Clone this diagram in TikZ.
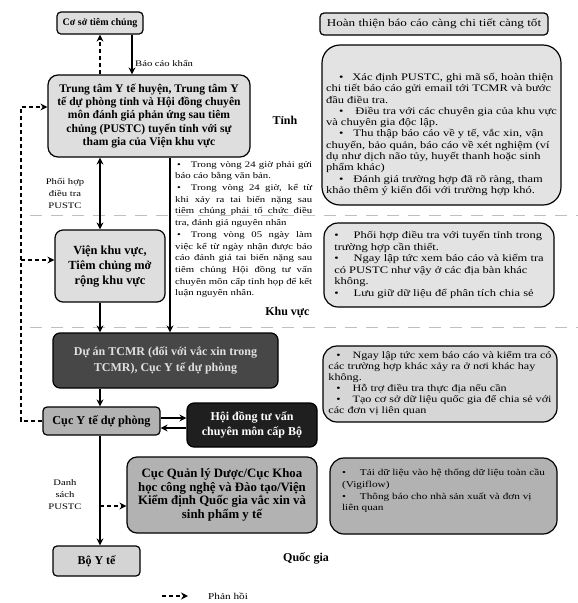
\documentclass[tikz,border=0pt]{standalone}
\usepackage{fontspec}
\setmainfont{Liberation Serif}
\newfontfamily\notefont{Liberation Serif}[FakeStretch=1.25]
\usetikzlibrary{arrows.meta}

\tikzset{
    box/.style={draw=black, line width=1.2pt, rounded corners=4pt, align=center, inner sep=2pt},
    lightbox/.style={box, fill=black!13},
    midbox/.style={box, fill=black!30},
    darkbox/.style={box, fill=black!72, text=black!12},
    blackbox/.style={box, fill=black!88, text=white},
    notebox/.style={draw=black, line width=1.2pt, rounded corners=14pt, fill=black!11, align=left, inner sep=0pt},
    flow/.style={line width=1.6pt, -{Stealth[length=7pt, width=7pt]}},
    twoway/.style={line width=1.6pt, {Stealth[length=7pt, width=7pt]}-{Stealth[length=7pt, width=7pt]}},
    feedback/.style={line width=1.6pt, dash pattern=on 4pt off 3pt, -{Stealth[length=7pt, width=7pt]}},
    tier/.style={font=\bfseries\fontsize{12}{14}\selectfont},
    edgelabel/.style={align=center, inner sep=0pt, font=\notefont\fontsize{8.5}{12}\selectfont},
    separator/.style={draw=black!25, line width=0.6pt, dash pattern=on 12pt off 9pt}
}

\begin{document}
\begin{tikzpicture}[x=1pt, y=-1pt]

    \path[use as bounding box, fill=white] (0,0) rectangle (578,603);

    \draw[separator] (30,215) -- (578,215);
    \draw[separator] (30,327) -- (578,327);

    \coordinate (colA) at (100,0);
    \coordinate (colB) at (132,0);
    \coordinate (colC) at (170,0);
    \coordinate (fbtop) at (21,107);
    \coordinate (fbmid) at (21,260);
    \coordinate (rowout) at (0,418);
    \coordinate (rowback) at (0,428);
    \coordinate (branchQ) at (100,506);

    % left column
    \node[lightbox, minimum width=86pt, minimum height=22pt, font=\bfseries\fontsize{10}{12}\selectfont] (coso) at (100,23) {Cơ sở tiêm chủng};

    \node[lightbox, rounded corners=10pt, minimum width=202pt, minimum height=82pt, font=\bfseries\fontsize{11.6}{13.2}\selectfont] (trungtam) at (149,116) {Trung tâm Y tế huyện, Trung tâm Y\\tế dự phòng tỉnh và Hội đồng chuyên\\môn đánh giá phản ứng sau tiêm\\chủng (PUSTC) tuyến tỉnh với sự\\tham gia của Viện khu vực};

    \node[lightbox, rounded corners=8pt, minimum width=110pt, minimum height=72pt, font=\bfseries\fontsize{12.4}{15}\selectfont] (vien) at (110,266) {Viện khu vực,\\Tiêm chủng mở\\rộng khu vực};

    \node[darkbox, rounded corners=7pt, minimum width=225pt, minimum height=55pt, font=\bfseries\fontsize{12}{15.5}\selectfont] (duan) at (165.5,360.5) {Dự án TCMR (đối với vắc xin trong\\TCMR), Cục Y tế dự phòng};

    \node[midbox, minimum width=117pt, minimum height=28pt, font=\bfseries\fontsize{12.2}{14}\selectfont] (cucyt) at (101.5,421) {Cục Y tế dự phòng};

    \node[blackbox, rounded corners=7pt, minimum width=130pt, minimum height=44pt, font=\bfseries\fontsize{12}{15}\selectfont] (hoidong) at (252,425) {Hội đồng tư vấn\\chuyên môn cấp Bộ};

    \node[midbox, rounded corners=10pt, minimum width=190pt, minimum height=76pt, font=\bfseries\fontsize{12.8}{13.8}\selectfont] (cucql) at (222,495) {Cục Quản lý Dược/Cục Khoa\\học công nghệ và Đào tạo/Viện\\Kiểm định Quốc gia vắc xin và\\sinh phẩm y tế};

    \node[lightbox, fill=black!17, minimum width=87pt, minimum height=30pt, font=\bfseries\fontsize{12}{14}\selectfont] (boyte) at (96.5,561) {Bộ Y tế};

    \node[anchor=north west, text width=137pt, align=justify, inner sep=0pt, font=\notefont\fontsize{8.6}{11.7}\selectfont] (deadlines) at (175,161) {\hspace*{2pt}\textbullet\hspace{10pt}Trong vòng 24 giờ phải gửi\linebreak báo cáo bằng văn bản.\par
    \hspace*{2pt}\textbullet\hspace{10pt}Trong vòng 24 giờ, kể từ\linebreak khi xảy ra tai biến nặng sau\linebreak tiêm chủng phải tổ chức điều\linebreak tra, đánh giá nguyên nhân\par
    \hspace*{2pt}\textbullet\hspace{10pt}Trong vòng 05 ngày làm\linebreak việc kể từ ngày nhận được báo\linebreak cáo đánh giá tai biến nặng sau\linebreak tiêm chủng Hội đồng tư vấn\linebreak chuyên môn cấp tỉnh họp để kết\linebreak luận nguyên nhân.};

    % tiers
    \node[tier] (tinh) at (285,120) {Tỉnh};
    \node[tier, anchor=east] (khuvuc) at (313,313) {Khu vực};
    \node[tier] (quocgia) at (306,558) {Quốc gia};

    % right column
    \node[lightbox, minimum width=228pt, minimum height=22pt, font=\notefont\fontsize{10.5}{13}\selectfont] (hoanthien) at (434,24) {Hoàn thiện báo cáo càng chi tiết càng tốt};

    \node[notebox, rounded corners=18pt, minimum width=239pt, minimum height=160pt, font=\notefont\fontsize{10}{11.3}\selectfont] (tinhnote) at (441.5,125) {\rule{0pt}{26pt}\hspace*{13pt}\textbullet\hspace{9pt}Xác định PUSTC, ghi mã số, hoàn thiện\\chi tiết báo cáo gửi email tới TCMR và bước\\đầu điều tra.\\\hspace*{13pt}\textbullet\hspace{12pt}Điều tra với các chuyên gia của khu vực\\và chuyên gia độc lập.\\\hspace*{13pt}\textbullet\hspace{10pt}Thu thập báo cáo về y tế, vắc xin, vận\\chuyển, bảo quản, báo cáo về xét nghiệm (ví\\dụ như dịch não tủy, huyết thanh hoặc sinh\\phẩm khác)\\\hspace*{13pt}\textbullet\hspace{10pt}Đánh giá trường hợp đã rõ ràng, tham\\khảo thêm ý kiến đối với trường hợp khó.};

    \node[notebox, minimum width=230pt, minimum height=84pt, font=\notefont\fontsize{10}{11.6}\selectfont] (khuvucnote) at (439,265) {\textbullet\hspace{15pt}Phối hợp điều tra với tuyến tỉnh trong\\trường hợp cần thiết.\\\textbullet\hspace{15pt}Ngay lập tức xem báo cáo và kiểm tra\\có PUSTC như vậy ở các địa bàn khác\\không.\\\textbullet\hspace{15pt}Lưu giữ dữ liệu để phân tích chia sẻ};

    \node[notebox, fill=black!16, minimum width=234pt, minimum height=76pt, font=\notefont\fontsize{9.7}{11}\selectfont] (quocgianote) at (440,384) {\hspace*{8pt}\textbullet\hspace{12pt}Ngay lập tức xem báo cáo và kiểm tra có\\các trường hợp khác xảy ra ở nơi khác hay\\không.\\\hspace*{8pt}\textbullet\hspace{12pt}Hỗ trợ điều tra thực địa nếu cần\\\hspace*{8pt}\textbullet\hspace{12pt}Tạo cơ sở dữ liệu quốc gia để chia sẻ với\\các đơn vị liên quan};

    \node[notebox, fill=black!30, minimum width=227pt, minimum height=76pt, font=\notefont\fontsize{9}{11.7}\selectfont] (vigiflow) at (443.5,496) {\textbullet\hspace{14pt}Tải dữ liệu vào hệ thống dữ liệu toàn cầu\\(Vigiflow)\\\textbullet\hspace{14pt}Thông báo cho nhà sản xuất và đơn vị\\liên quan\rule[-12pt]{0pt}{0pt}};

    % connectors
    \draw[feedback] (trungtam.north -| colA) -- (coso.south -| colA);
    \draw[flow] (coso.south -| colB) -- (trungtam.north -| colB);
    \node[edgelabel, anchor=west] (baocao) at (135,63) {Báo cáo khẩn};
    \draw[twoway] (trungtam.south -| colA) -- (vien.north -| colA);
    \node[edgelabel] (phoihop) at (65,193) {Phối hợp\\điều tra\\PUSTC};
    \draw[flow] (vien.south -| colA) -- (duan.north -| colA);
    \draw[flow] (trungtam.south -| colC) -- (duan.north -| colC);
    \draw[flow] (duan.south -| colA) -- (cucyt.north -| colA);
    \draw[flow] (cucyt.east |- rowout) -- (hoidong.west |- rowout);
    \draw[flow] (hoidong.west |- rowback) -- (cucyt.east |- rowback);
    \draw[flow] (cucyt.south -| colA) -- (boyte.north -| colA);
    \node[edgelabel] (danhsach) at (65,495) {Danh\\sách\\PUSTC};
    \draw[feedback] (branchQ) -- (branchQ -| cucql.west);
    \draw[feedback] (cucyt.west) -| (fbtop) -- (fbtop -| trungtam.west);
    \draw[feedback] (fbmid) -- (fbmid -| vien.west);

    % legend
    \coordinate (legstart) at (162,596);
    \coordinate (legend) at (188,596);
    \draw[feedback, line width=1.2pt] (legstart) -- (legend);
    \node[edgelabel, anchor=west, font=\notefont\fontsize{9}{11}\selectfont] (leglabel) at (208,596) {Phản hồi};
\end{tikzpicture}
\end{document}
